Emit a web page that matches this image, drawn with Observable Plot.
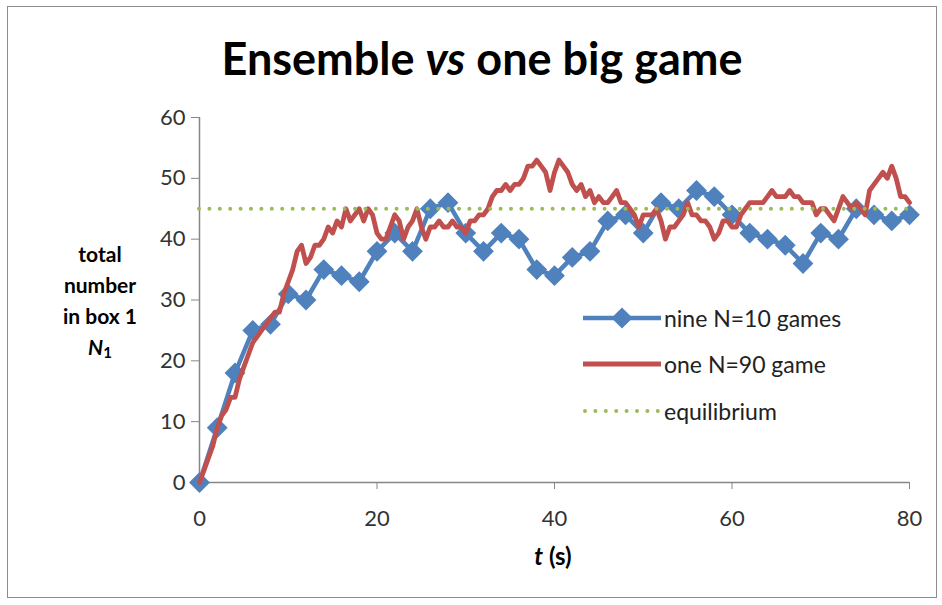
<!DOCTYPE html>
<html><head><meta charset="utf-8">
<script src="https://cdn.jsdelivr.net/npm/d3@7"></script>
<script src="https://cdn.jsdelivr.net/npm/@observablehq/plot@0.6"></script>
<style>
body{margin:0;background:#fff;font-family:Lato,"Open Sans",sans-serif;}
#wrap{position:relative;width:942px;height:605px;overflow:hidden;}
#frame{position:absolute;left:7px;top:6px;width:930px;height:592px;border:1px solid #8c8c8c;box-sizing:border-box;pointer-events:none}
#chart{position:absolute;left:0;top:0}
#title{position:absolute;left:0;width:964px;top:31px;text-align:center;font-size:45px;font-weight:bold;color:#000;white-space:nowrap}
#ylab{position:absolute;left:40px;width:120px;top:238px;text-align:center;font-size:21px;font-weight:bold;line-height:31px;color:#000}
#xlab{position:absolute;left:453px;width:200px;top:541px;text-align:center;font-size:24px;font-weight:bold;color:#000}
.leg{position:absolute;left:583px;height:30px;display:flex;align-items:center;font-size:23px;color:#222;white-space:nowrap}
.leg svg{margin-right:3px}
</style></head>
<body>
<div id="wrap">
  <div id="chart"></div>
  <div id="title">Ensemble <i>vs</i> one big game</div>
  <div id="ylab">total<br>number<br>in box 1<br><i>N</i><sub style="font-size:15px;font-weight:bold;vertical-align:-3px">1</sub></div>
  <div id="xlab"><i>t</i> (s)</div>
  <div id="legend"></div>
  <div id="frame"></div>
</div>
<script>
// ---- data ----
const xTicks = [0, 20, 40, 60, 80];
const yTicks = [0, 10, 20, 30, 40, 50, 60];
const equilibrium = 45;

const blueT = [0,2,4,6,8,10,12,14,16,18,20,22,24,26,28,30,32,34,36,38,40,42,44,46,48,50,52,54,56,58,60,62,64,66,68,70,72,74,76,78,80];
const blueN = [0,9,18,25,26,31,30,35,34,33,38,41,38,45,46,41,38,41,40,35,34,37,38,43,44,41,46,45,48,47,44,41,40,39,36,41,40,45,44,43,44];

const redT = [0,0.5,1,1.5,2,2.5,3,3.5,4,4.5,5,5.5,6,6.5,7,7.5,8,8.5,9,9.5,
  10,10.5,11,11.5,12,12.5,13,13.5,14,14.5,15,15.5,16,16.5,17,17.5,18,18.5,19,19.5,
  20,20.5,21,21.5,22,22.5,23,23.5,24,24.5,25,25.5,26,26.5,27,27.5,28,28.5,29,29.5,
  30,30.5,31,31.5,32,32.5,33,33.5,34,34.5,35,35.5,36,36.5,37,37.5,38,38.5,39,39.5,
  40,40.5,41,41.5,42,42.5,43,43.5,44,44.5,45,45.5,46,46.5,47,47.5,48,48.5,49,49.5,
  50,50.5,51,51.5,52,52.5,53,53.5,54,54.5,55,55.5,56,56.5,57,57.5,58,58.5,59,59.5,
  60,60.5,61,61.5,62,62.5,63,63.5,64,64.5,65,65.5,66,66.5,67,67.5,68,68.5,69,69.5,
  70,70.5,71,71.5,72,72.5,73,73.5,74,74.5,75,75.5,76,76.5,77,77.5,78,78.5,79,79.5,80];
const redN = [0,2,4,6,9,11,12,14,14,17,19,21,23,24,25,26,27,28,28,31,
  33,35,38,39,36,37,39,39,40,42,41,43,42,45,43,44,45,43,45,44,
  41,40,40,42,44,43,40,42,43,45,42,40,42,42,43,42,42,43,42,42,
  41,43,43,44,44,45,47,48,48,49,48,49,49,50,52,52,53,52,51,48,
  51,53,52,51,49,48,49,47,48,46,47,46,46,47,48,46,46,45,44,42,
  44,44,44,45,43,40,42,42,43,44,46,44,44,43,43,42,40,41,43,43,
  42,42,44,45,46,46,46,46,47,48,47,47,47,48,47,47,46,46,46,44,
  45,45,44,43,45,47,46,45,46,45,44,48,49,50,51,50,52,50,47,47,46];

const legendLabels = ["nine N=10 games", "one N=90 game", "equilibrium"];

// ---- colours ----
const BLUE = "#4F81BD", RED = "#C0504D", GREEN = "#9BBB59", AXIS = "#868686";

const blue = blueT.map((t, i) => ({t, n: blueN[i]}));
const red = redT.map((t, i) => ({t, n: redN[i]}));

const chart = Plot.plot({
  width: 942, height: 605,
  marginLeft: 199, marginRight: 33, marginTop: 117, marginBottom: 123,
  style: {fontFamily: "Lato, 'Open Sans', sans-serif", fontSize: "22px", background: "transparent", color: "#333"},
  x: {domain: [0, 80]},
  y: {domain: [0, 60]},
  marks: [
    Plot.axisY({ticks: yTicks, tickSize: 8, tickPadding: 6, stroke: AXIS, fill: "#333", label: null, fontSize: 22}),
    Plot.axisX({ticks: xTicks, tickSize: 7, tickPadding: 21, stroke: AXIS, fill: "#333", label: null, fontSize: 22}),
    Plot.ruleX([0], {stroke: AXIS, strokeWidth: 1.5}),
    Plot.ruleY([0], {stroke: AXIS, strokeWidth: 1.5}),
    Plot.line(blue, {x: "t", y: "n", stroke: BLUE, strokeWidth: 4.5, strokeLinejoin: "round"}),
    Plot.dot(blue, {x: "t", y: "n", symbol: "square", r: 8.3, rotate: 45, fill: BLUE, stroke: "none"}),
    Plot.line(red, {x: "t", y: "n", stroke: RED, strokeWidth: 4.8, strokeLinejoin: "round"}),
    Plot.ruleY([equilibrium], {stroke: GREEN, strokeWidth: 4, strokeDasharray: "0 10.4", strokeLinecap: "round"})
  ]
});
document.getElementById("chart").appendChild(chart);

// ---- legend ----
const legend = document.getElementById("legend");
const rowsY = [303, 349, 396];
legendLabels.forEach((lab, i) => {
  const row = document.createElement("div");
  row.className = "leg";
  row.style.top = rowsY[i] + "px";
  let sw;
  if (i === 0) sw = `<svg width="78" height="30"><line x1="0" y1="15" x2="78" y2="15" stroke="${BLUE}" stroke-width="4.5"/><rect x="31.5" y="7.5" width="15" height="15" fill="${BLUE}" transform="rotate(45 39 15)"/></svg>`;
  else if (i === 1) sw = `<svg width="78" height="30"><line x1="0" y1="15" x2="78" y2="15" stroke="${RED}" stroke-width="4.8"/></svg>`;
  else sw = `<svg width="78" height="30"><line x1="2" y1="15" x2="78" y2="15" stroke="${GREEN}" stroke-width="4" stroke-dasharray="0 10.4" stroke-linecap="round"/></svg>`;
  row.innerHTML = sw + `<span>${lab}</span>`;
  legend.appendChild(row);
});
</script>
</body></html>
